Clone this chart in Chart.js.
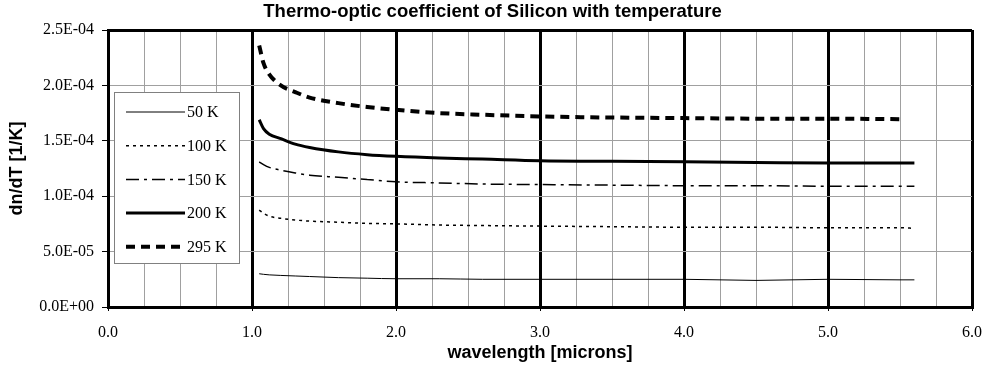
<!DOCTYPE html>
<html>
<head>
<meta charset="utf-8">
<script src="https://cdn.jsdelivr.net/npm/chart.js@4.4.0/dist/chart.umd.min.js"></script>
<style>
  html, body { margin: 0; padding: 0; background: #fff; }
  canvas { display: block; }
</style>
</head>
<body>
<canvas id="dndtChart" width="985" height="371"></canvas>
<script>
// wavelength in microns (shared by all curves)
const wavelengths = [1.05, 1.08, 1.12, 1.2, 1.3, 1.4, 1.6, 1.8, 2.0, 2.3, 2.6, 3.0, 3.5, 4.0, 4.5, 5.0, 5.5, 5.6];

// dn/dT [1/K]
const k50 = [3.0e-5, 2.95e-5, 2.9e-5, 2.85e-5, 2.8e-5, 2.75e-5, 2.65e-5, 2.6e-5, 2.55e-5, 2.55e-5, 2.5e-5, 2.5e-5, 2.5e-5, 2.5e-5, 2.4e-5, 2.5e-5, 2.45e-5, 2.45e-5];
const k100 = [8.75e-5, 8.45e-5, 8.2e-5, 8.0e-5, 7.85e-5, 7.75e-5, 7.65e-5, 7.55e-5, 7.5e-5, 7.4e-5, 7.35e-5, 7.3e-5, 7.25e-5, 7.2e-5, 7.2e-5, 7.15e-5, 7.15e-5, 7.1e-5];
const k150 = [1.31e-4, 1.285e-4, 1.26e-4, 1.235e-4, 1.21e-4, 1.19e-4, 1.17e-4, 1.15e-4, 1.13e-4, 1.12e-4, 1.11e-4, 1.105e-4, 1.1e-4, 1.095e-4, 1.095e-4, 1.09e-4, 1.09e-4, 1.09e-4];
const k200 = [1.69e-4, 1.61e-4, 1.56e-4, 1.52e-4, 1.47e-4, 1.44e-4, 1.4e-4, 1.375e-4, 1.36e-4, 1.345e-4, 1.335e-4, 1.32e-4, 1.315e-4, 1.31e-4, 1.305e-4, 1.3e-4, 1.3e-4, 1.3e-4];
const k295 = [2.36e-4, 2.2e-4, 2.1e-4, 2.0e-4, 1.94e-4, 1.89e-4, 1.84e-4, 1.805e-4, 1.78e-4, 1.75e-4, 1.735e-4, 1.72e-4, 1.71e-4, 1.705e-4, 1.7e-4, 1.7e-4, 1.695e-4, null];

const seriesLabels = ['50 K', '100 K', '150 K', '200 K', '295 K'];
const seriesValues = [k50, k100, k150, k200, k295];

const serif = "'Liberation Serif', 'Times New Roman', serif";
const sans = "'Liberation Sans', Arial, sans-serif";

// line styles per series
const styles = [
  { width: 1, dash: [] },
  { width: 1.5, dash: [3, 4] },
  { width: 1.5, dash: [13, 5, 3, 5] },
  { width: 3, dash: [] },
  { width: 4, dash: [9, 6] }
];

function sci(v) {
  const parts = Number(v).toExponential(1).split('e');
  const exp = parts[1];
  return parts[0] + 'E' + exp[0] + exp.slice(1).padStart(2, '0');
}

const datasets = seriesValues.map((vals, i) => ({
  label: seriesLabels[i],
  data: wavelengths.map((x, j) => ({ x: x, y: vals[j] })),
  borderColor: '#000',
  borderWidth: styles[i].width,
  borderDash: styles[i].dash,
  pointRadius: 0,
  cubicInterpolationMode: 'monotone',
  fill: false,
  spanGaps: false
}));

// legend box drawn inside the plot area
const boxLegend = {
  id: 'boxLegend',
  afterDraw(chart) {
    const ctx = chart.ctx;
    const a = chart.chartArea;
    const x0 = a.left + 6, y0 = a.top + 62, w = 125, h = 171;
    ctx.save();
    ctx.fillStyle = '#fff';
    ctx.fillRect(x0, y0, w, h);
    ctx.strokeStyle = '#808080';
    ctx.lineWidth = 1;
    ctx.strokeRect(x0 + 0.5, y0 + 0.5, w, h);
    chart.data.datasets.forEach((ds, i) => {
      const y = y0 + 20 + i * 33.7;
      ctx.beginPath();
      ctx.setLineDash(ds.borderDash);
      ctx.lineWidth = ds.borderWidth;
      ctx.strokeStyle = '#000';
      ctx.moveTo(x0 + 12, y);
      ctx.lineTo(x0 + 71, y);
      ctx.stroke();
      ctx.setLineDash([]);
      ctx.fillStyle = '#000';
      ctx.font = '16px ' + serif;
      ctx.textBaseline = 'middle';
      ctx.textAlign = 'left';
      ctx.fillText(ds.label, x0 + 73, y + 1);
    });
    ctx.restore();
  }
};

const ctx = document.getElementById('dndtChart').getContext('2d');
new Chart(ctx, {
  type: 'line',
  data: { datasets: datasets },
  plugins: [boxLegend],
  options: {
    responsive: false,
    animation: false,
    layout: { padding: { left: 13, right: 13, top: 0, bottom: 0 } },
    plugins: {
      legend: { display: false },
      tooltip: { enabled: false },
      title: {
        display: true,
        text: 'Thermo-optic coefficient of Silicon with temperature',
        color: '#000',
        font: { family: sans, size: 18.5, weight: 'bold' },
        padding: { top: 1, bottom: 6.8 }
      }
    },
    scales: {
      x: {
        type: 'linear',
        min: 0,
        max: 6,
        afterFit: s => { s.height = 64; s.paddingLeft = 0; s.paddingRight = 0; },
        border: { display: true, color: '#000', width: 3 },
        grid: {
          color: c => (c.tick && c.tick.value % 1 === 0) ? '#000' : '#a0a0a0',
          lineWidth: c => (c.tick && c.tick.value % 1 === 0) ? 3 : 1,
          tickColor: c => (c.tick && c.tick.value % 1 === 0) ? '#000' : 'rgba(0,0,0,0)',
          tickWidth: 1,
          tickLength: 4
        },
        ticks: {
          stepSize: 0.25,
          autoSkip: false,
          maxRotation: 0,
          padding: 12,
          color: '#000',
          font: { family: serif, size: 16 },
          callback: v => (v % 1 === 0 ? Number(v).toFixed(1) : '')
        },
        title: {
          display: true,
          text: 'wavelength [microns]',
          color: '#000',
          font: { family: sans, size: 18, weight: 'bold' },
          padding: { top: 0, bottom: 7 }
        }
      },
      y: {
        min: 0,
        max: 2.5e-4,
        afterFit: s => { s.width = 95; s.paddingTop = 0; s.paddingBottom = 0; },
        border: { display: true, color: '#000', width: 3 },
        grid: {
          color: c => (c.index === 0 || c.index === 5) ? '#000' : '#a0a0a0',
          lineWidth: c => (c.index === 0 || c.index === 5) ? 3 : 1,
          tickColor: '#000',
          tickWidth: 1,
          tickLength: 6
        },
        ticks: {
          stepSize: 5e-5,
          padding: 8,
          color: '#000',
          font: { family: serif, size: 16 },
          callback: v => sci(v)
        },
        title: {
          display: true,
          text: 'dn/dT [1/K]',
          color: '#000',
          font: { family: sans, size: 18, weight: 'bold' },
          padding: { top: -6.8, bottom: 0 }
        }
      }
    }
  }
});
</script>
</body>
</html>
